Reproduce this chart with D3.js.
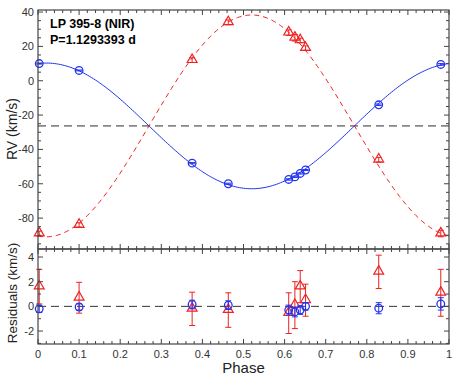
<!doctype html>
<html lang="en">
<head>
<meta charset="utf-8">
<title>LP 395-8 RV curve</title>
<script src="https://d3js.org/d3.v7.min.js"></script>
<style>
  body { margin: 0; background: #fff; }
  text { font-family: "Liberation Sans", Arial, sans-serif; }
</style>
</head>
<body>
<svg id="chart" width="463" height="376"></svg>
<script>
// orbital phases of the observations
var phase = [0.003, 0.100, 0.375, 0.463, 0.610, 0.625, 0.638, 0.651, 0.829, 0.980];
// primary (blue circles) and secondary (red triangles) RVs, km/s
var rv1 = [10.0, 6.0, -48.0, -60.0, -57.5, -56.0, -54.0, -52.0, -14.0, 9.5];
var rv2 = [-89.0, -84.0, 12.0, 34.0, 28.0, 25.0, 23.5, 19.0, -46.0, -89.0];
// residuals and their errors
var res1 = [-0.2, -0.05, 0.15, 0.1, -0.3, -0.45, -0.3, 0.0, -0.15, 0.2];
var err1 = [0.3, 0.25, 0.35, 0.35, 0.4, 0.4, 0.35, 0.3, 0.45, 0.5];
var res2 = [1.6, 0.7, -0.2, -0.3, -0.55, 0.1, 1.6, 0.5, 2.8, 1.1];
var err2 = [1.4, 1.25, 1.35, 1.4, 1.65, 1.9, 1.3, 1.3, 1.35, 1.9];
// orbit fit
var gamma = -26.3, K1 = 36.6, K2 = 64.6, phi0 = 0.02;

var xTicks = [0, 0.1, 0.2, 0.3, 0.4, 0.5, 0.6, 0.7, 0.8, 0.9, 1];
var rvTicks = [40, 20, 0, -20, -40, -60, -80];
var resTicks = [4, 2, 0, -2];

var svg = d3.select("#chart");
var left = 38, right = 449;
var x = d3.scaleLinear().domain([0, 1]).range([left, right]);
var yTop = d3.scaleLinear().domain([-98, 41.2]).range([249, 10]);
var yBot = d3.scaleLinear().domain([-3.05, 4.65]).range([344, 249]);
var axisCol = "#444", labCol = "#333";
var blue = "#2233ee", red = "#ee2222";

function frame(y, yt, yMinor, yMajor, showX) {
  var t = y.range()[1], b = y.range()[0];
  var g = svg.append("g");
  g.append("rect").attr("x", left).attr("y", t).attr("width", right - left).attr("height", b - t)
    .attr("fill", "none").attr("stroke", axisCol).attr("stroke-width", 1.2);
  // x ticks top & bottom
  d3.range(0, 1.0001, 0.02).forEach(function (v) {
    var maj = Math.abs(v * 10 - Math.round(v * 10)) < 1e-6;
    var len = maj ? 5 : 3;
    g.append("line").attr("x1", x(v)).attr("x2", x(v)).attr("y1", b).attr("y2", b - len).attr("stroke", axisCol);
    g.append("line").attr("x1", x(v)).attr("x2", x(v)).attr("y1", t).attr("y2", t + len).attr("stroke", axisCol);
  });
  // y ticks left & right
  var d = y.domain();
  d3.range(Math.ceil(d[0] / yMinor) * yMinor, d[1] + 1e-9, yMinor).forEach(function (v) {
    var maj = Math.abs(v / yMajor - Math.round(v / yMajor)) < 1e-6;
    var len = maj ? 5 : 3;
    g.append("line").attr("x1", left).attr("x2", left + len).attr("y1", y(v)).attr("y2", y(v)).attr("stroke", axisCol);
    g.append("line").attr("x1", right).attr("x2", right - len).attr("y1", y(v)).attr("y2", y(v)).attr("stroke", axisCol);
  });
  yt.forEach(function (v) {
    g.append("text").attr("x", left - 4).attr("y", y(v) + 4).attr("text-anchor", "end")
      .attr("font-size", 11).attr("fill", labCol).text(v);
  });
  if (showX) {
    xTicks.forEach(function (v) {
      g.append("text").attr("x", x(v)).attr("y", b + 14).attr("text-anchor", "middle")
        .attr("font-size", 11).attr("fill", labCol).text(v);
    });
  }
}

function circles(g, xs, ys, errs, y) {
  xs.forEach(function (p, i) {
    var cx = x(p), cy = y(ys[i]), e0 = y(ys[i] - errs[i]), e1 = y(ys[i] + errs[i]);
    g.append("line").attr("x1", cx).attr("x2", cx).attr("y1", e0).attr("y2", e1).attr("stroke", blue).attr("stroke-width", 1);
    [e0, e1].forEach(function (yy) {
      g.append("line").attr("x1", cx - 3).attr("x2", cx + 3).attr("y1", yy).attr("y2", yy).attr("stroke", blue).attr("stroke-width", 1);
    });
    g.append("circle").attr("cx", cx).attr("cy", cy).attr("r", 3.8)
      .attr("fill", "none").attr("stroke", blue).attr("stroke-width", 1.3);
  });
}

function triangles(g, xs, ys, errs, y) {
  var tri = d3.symbol().type(d3.symbolTriangle).size(42);
  xs.forEach(function (p, i) {
    var cx = x(p), cy = y(ys[i]), e0 = y(ys[i] - errs[i]), e1 = y(ys[i] + errs[i]);
    g.append("line").attr("x1", cx).attr("x2", cx).attr("y1", e0).attr("y2", e1).attr("stroke", red).attr("stroke-width", 1);
    [e0, e1].forEach(function (yy) {
      g.append("line").attr("x1", cx - 3).attr("x2", cx + 3).attr("y1", yy).attr("y2", yy).attr("stroke", red).attr("stroke-width", 1);
    });
    g.append("path").attr("d", tri).attr("transform", "translate(" + cx + "," + (cy - 0.5) + ")")
      .attr("fill", "none").attr("stroke", red).attr("stroke-width", 1.2);
  });
}

// ---- top panel
var clipTop = svg.append("clipPath").attr("id", "ct");
clipTop.append("rect").attr("x", left).attr("y", 10).attr("width", right - left).attr("height", 239);
var gt = svg.append("g").attr("clip-path", "url(#ct)");

gt.append("line").attr("x1", left).attr("x2", right).attr("y1", yTop(gamma)).attr("y2", yTop(gamma))
  .attr("stroke", "#888").attr("stroke-width", 1.6).attr("stroke-dasharray", "8,5");

var ph = d3.range(0, 1.0001, 0.005);
var line = function (K, sgn) {
  return d3.line().x(function (p) { return x(p); })
    .y(function (p) { return yTop(gamma + sgn * K * Math.cos(2 * Math.PI * (p - phi0))); })(ph);
};
gt.append("path").attr("d", line(K1, 1)).attr("fill", "none").attr("stroke", blue).attr("stroke-width", 1);
gt.append("path").attr("d", line(K2, -1)).attr("fill", "none").attr("stroke", red).attr("stroke-width", 1)
  .attr("stroke-dasharray", "5,4");

var gm = svg.append("g");
triangles(gm, phase, rv2, err2, yTop);
circles(gm, phase, rv1, err1, yTop);

frame(yTop, rvTicks, 5, 20, false);

svg.append("text").attr("x", 50).attr("y", 28).attr("font-size", 12.5).attr("font-weight", "bold")
  .text("LP 395-8 (NIR)");
svg.append("text").attr("x", 50).attr("y", 44).attr("font-size", 12.5).attr("font-weight", "bold")
  .text("P=1.1293393 d");

// ---- residual panel
var gb = svg.append("g");
gb.append("line").attr("x1", left).attr("x2", right).attr("y1", yBot(0)).attr("y2", yBot(0))
  .attr("stroke", "#333").attr("stroke-width", 1).attr("stroke-dasharray", "8,5");
triangles(gb, phase, res2, err2, yBot);
circles(gb, phase, res1, err1, yBot);
frame(yBot, resTicks, 1, 2, true);

// axis titles
svg.append("text").attr("transform", "translate(17," + 129 + ") rotate(-90)")
  .attr("text-anchor", "middle").attr("font-size", 14).attr("fill", "#222").text("RV (km/s)");
svg.append("text").attr("transform", "translate(17," + 293 + ") rotate(-90)")
  .attr("text-anchor", "middle").attr("font-size", 13.5).attr("fill", "#222").text("Residuals (km/s)");
svg.append("text").attr("x", (left + right) / 2).attr("y", 373).attr("text-anchor", "middle")
  .attr("font-size", 15).attr("fill", "#222").text("Phase");
</script>
</body>
</html>
